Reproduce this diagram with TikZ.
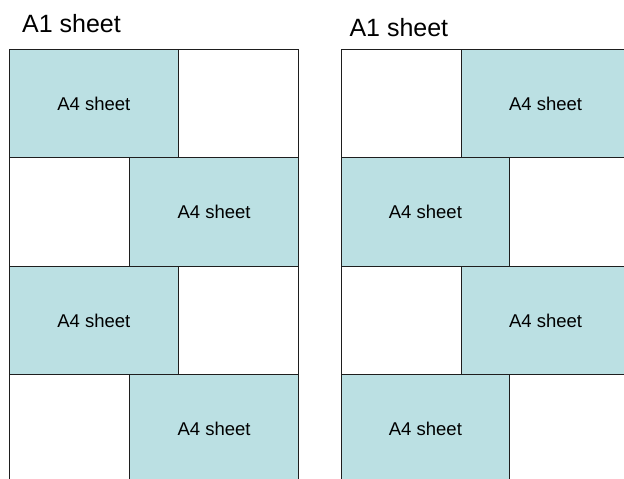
\documentclass[tikz,border=0pt]{standalone}
\usepackage{fontspec}
\setmainfont{Liberation Sans}
\definecolor{sheetblue}{RGB}{187,224,227}
\definecolor{edge}{RGB}{30,30,30}
\tikzset{
  rowbox/.style={draw=edge, line width=1pt, fill=white, inner sep=0pt, outer sep=0pt,
    minimum width=289pt, minimum height=108.5pt, anchor=north west},
  a4box/.style={draw=edge, line width=1pt, fill=sheetblue, inner sep=0pt, outer sep=0pt,
    minimum width=168.8pt, minimum height=108.5pt, anchor=north west,
    font=\fontsize{18.5}{22}\selectfont},
  a1label/.style={anchor=base west, inner sep=0pt, font=\fontsize{25}{30}\selectfont}
}
\begin{document}
\begin{tikzpicture}[x=1pt,y=-1pt]
\clip (0,0) rectangle (624,479);
\fill[white] (0,0) rectangle (624,479);
% labels
\node[a1label] (t1) at (22,32) {A1 sheet};
\node[a1label] (t2) at (349.3,36.7) {A1 sheet};
% left column rows
\node[rowbox] (lr1) at (9.5,49.3) {};
\node[rowbox] (lr2) at (9.5,157.8) {};
\node[rowbox] (lr3) at (9.5,266.3) {};
\node[rowbox] (lr4) at (9.5,374.8) {};
\node[a4box] (la1) at (9.5,49.3) {A4 sheet};
\node[a4box] (la2) at (129.7,157.8) {A4 sheet};
\node[a4box] (la3) at (9.5,266.3) {A4 sheet};
\node[a4box] (la4) at (129.7,374.8) {A4 sheet};
% right column rows
\node[rowbox] (rr1) at (341,49.3) {};
\node[rowbox] (rr2) at (341,157.8) {};
\node[rowbox] (rr3) at (341,266.3) {};
\node[rowbox] (rr4) at (341,374.8) {};
\node[a4box] (ra1) at (461.2,49.3) {A4 sheet};
\node[a4box] (ra2) at (341,157.8) {A4 sheet};
\node[a4box] (ra3) at (461.2,266.3) {A4 sheet};
\node[a4box] (ra4) at (341,374.8) {A4 sheet};
\end{tikzpicture}
\end{document}
